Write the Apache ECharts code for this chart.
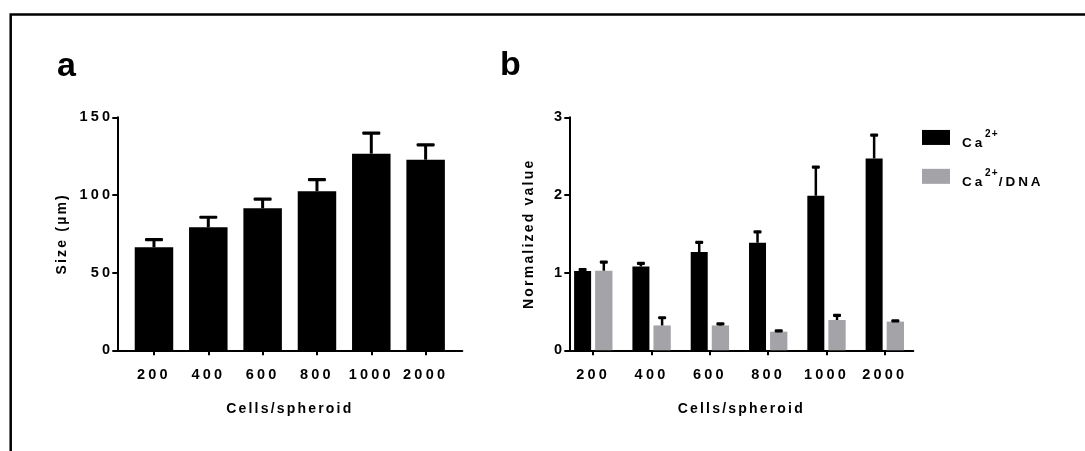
<!DOCTYPE html>
<html>
<head>
<meta charset="utf-8">
<title>Spheroid size and calcium content</title>
<script src="https://cdn.jsdelivr.net/npm/echarts@6/dist/echarts.min.js"></script>
<style>
  html, body { margin: 0; padding: 0; background: #fff; }
  #chart { width: 1085px; height: 451px; }
</style>
</head>
<body>
<div id="chart"></div>
<script>
// Seeding density (cells per spheroid)
const categories = ['200', '400', '600', '800', '1000', '2000'];

// (a) spheroid diameter, mean and upper SD
const sizeMean = [66.3, 79.2, 91.4, 102.4, 126.6, 122.7];
const sizeErr  = [6.0, 7.5, 6.9, 8.5, 14.2, 10.6];

// (b) normalized calcium content and calcium per DNA
const caMean    = [1.02, 1.08, 1.265, 1.385, 1.99, 2.47];
const caErr     = [0.04, 0.06, 0.145, 0.16, 0.39, 0.32];
const caDnaMean = [1.025, 0.32, 0.32, 0.24, 0.39, 0.37];
const caDnaErr  = [0.13, 0.12, 0.04, 0.03, 0.08, 0.03];

const sizeTicks = [0, 50, 100, 150];
const normTicks = [0, 1, 2, 3];

// Prism-style tracked lettering: glyph spacing chosen per font size.
const TRACKING = { 14.5: 3.2, 14: 2.2, 13.5: 2.9, 10: 1.2 };
(function () {
  const proto = CanvasRenderingContext2D.prototype;
  if (!('letterSpacing' in proto)) return;
  const apply = function (ctx) {
    const m = /(\d+(?:\.\d+)?)px/.exec(ctx.font);
    const size = m ? parseFloat(m[1]) : 0;
    ctx.letterSpacing = (TRACKING[size] || 0) + 'px';
  };
  ['fillText', 'strokeText', 'measureText'].forEach(function (fn) {
    const orig = proto[fn];
    proto[fn] = function () { apply(this); return orig.apply(this, arguments); };
  });
})();

const FONT = 'Liberation Sans';
const INK = '#000';
const GREY = '#a3a3a8';
const idx = categories.map(function (_, i) { return i; });

function barRenderer(offset, width) {
  return function (params, api) {
    const i = api.value(0);
    const top = api.coord([i, api.value(1)]);
    const base = api.coord([i, 0]);
    return {
      type: 'rect',
      shape: { x: top[0] + offset - width / 2, y: top[1], width: width, height: base[1] - top[1] },
      style: { fill: api.visual('color') }
    };
  };
}

function errRenderer(offset, capWidth, stroke) {
  return function (params, api) {
    const i = api.value(0);
    const mean = api.coord([i, api.value(1)]);
    const hi = api.coord([i, api.value(1) + api.value(2)]);
    const x = mean[0] + offset;
    return {
      type: 'group',
      children: [
        { type: 'line', shape: { x1: x, y1: mean[1], x2: x, y2: hi[1] + 1 },
          style: { stroke: INK, lineWidth: stroke } },
        { type: 'rect', shape: { x: x - capWidth / 2, y: hi[1], width: capWidth, height: 3.2, r: 1 },
          style: { fill: INK } }
      ]
    };
  };
}

function catAxis(gridIndex, min, max) {
  return {
    type: 'value', gridIndex: gridIndex, min: min, max: max,
    name: 'Cells/spheroid', nameLocation: 'middle', nameGap: 50.5,
    nameTextStyle: { fontFamily: FONT, fontWeight: 'bold', fontSize: 14, color: INK },
    axisLine: { show: true, onZero: false, lineStyle: { color: INK, width: 2 } },
    axisTick: { show: true, length: 5, lineStyle: { color: INK, width: 2 }, customValues: idx },
    axisLabel: {
      customValues: idx, margin: 15.5,
      fontFamily: FONT, fontWeight: 'bold', fontSize: 14.5, color: INK,
      formatter: function (v) { return categories[Math.round(v)]; }
    },
    splitLine: { show: false }
  };
}

function valAxis(gridIndex, name, ticks, nameGap) {
  return {
    type: 'value', gridIndex: gridIndex,
    min: ticks[0], max: ticks[ticks.length - 1], interval: ticks[1] - ticks[0],
    name: name, nameLocation: 'middle', nameGap: nameGap, nameRotate: 90,
    nameTextStyle: { fontFamily: FONT, fontWeight: 'bold', fontSize: 14, color: INK },
    axisLine: { show: true, onZero: false, lineStyle: { color: INK, width: 2 } },
    axisTick: { show: true, length: 5, lineStyle: { color: INK, width: 2 } },
    axisLabel: { margin: 4, fontFamily: FONT, fontWeight: 'bold', fontSize: 14.5, color: INK },
    splitLine: { show: false }
  };
}

const chart = echarts.init(document.getElementById('chart'), null, { renderer: 'canvas' });

chart.setOption({
  animation: false,
  backgroundColor: '#fff',
  title: [
    { text: 'a', left: 52, top: 45, textStyle: { fontFamily: FONT, fontWeight: 'bold', fontSize: 34, color: INK } },
    { text: 'b', left: 495, top: 44, textStyle: { fontFamily: FONT, fontWeight: 'bold', fontSize: 34, color: INK } }
  ],
  graphic: [
    { type: 'polyline', silent: true,
      shape: { points: [[10.7, 451], [10.7, 14.5], [1085, 14.5]] },
      style: { stroke: INK, lineWidth: 2.5, fill: null } }
  ],
  legend: {
    orient: 'vertical', left: 917, top: 118, itemWidth: 28, itemHeight: 15, itemGap: 10,
    icon: 'rect', selectedMode: false,
    data: ['Ca2+', 'Ca2+/DNA'],
    formatter: function (name) {
      return name === 'Ca2+' ? '{b|Ca}{s|2+}' : '{b|Ca}{s|2+}{b|/DNA}';
    },
    textStyle: {
      color: INK,
      rich: {
        b: { fontFamily: FONT, fontWeight: 'bold', fontSize: 13.5, color: INK, lineHeight: 28, padding: [12, 0, 0, 0] },
        s: { fontFamily: FONT, fontWeight: 'bold', fontSize: 10, color: INK, lineHeight: 28, padding: [0, 0, 7, 0] }
      },
      padding: [0, 0, 0, 7]
    }
  },
  grid: [
    { left: 117.3, top: 117.3, width: 345, height: 233 },
    { left: 569.3, top: 117.3, width: 344, height: 233 }
  ],
  xAxis: [catAxis(0, -0.675, 5.675), catAxis(1, -0.41, 5.49)],
  yAxis: [valAxis(0, 'Size (µm)', sizeTicks, 47), valAxis(1, 'Normalized value', normTicks, 32)],
  series: [
    { type: 'custom', name: 'Size', xAxisIndex: 0, yAxisIndex: 0, clip: false,
      itemStyle: { color: INK }, renderItem: barRenderer(0, 38.5),
      data: idx.map(function (i) { return [i, sizeMean[i]]; }) },
    { type: 'custom', name: 'Size SD', xAxisIndex: 0, yAxisIndex: 0, clip: false, z: 3,
      renderItem: errRenderer(0, 18, 3),
      data: idx.map(function (i) { return [i, sizeMean[i], sizeErr[i]]; }) },

    { type: 'custom', name: 'Ca2+', xAxisIndex: 1, yAxisIndex: 1, clip: false,
      itemStyle: { color: INK }, renderItem: barRenderer(-10.6, 17),
      data: idx.map(function (i) { return [i, caMean[i]]; }) },
    { type: 'custom', name: 'Ca2+/DNA', xAxisIndex: 1, yAxisIndex: 1, clip: false,
      itemStyle: { color: GREY }, renderItem: barRenderer(10.6, 17.3),
      data: idx.map(function (i) { return [i, caDnaMean[i]]; }) },
    { type: 'custom', name: 'Ca2+ SD', xAxisIndex: 1, yAxisIndex: 1, clip: false, z: 3,
      renderItem: errRenderer(-10.6, 8, 2.5),
      data: idx.map(function (i) { return [i, caMean[i], caErr[i]]; }) },
    { type: 'custom', name: 'Ca2+/DNA SD', xAxisIndex: 1, yAxisIndex: 1, clip: false, z: 3,
      renderItem: errRenderer(10.6, 8, 2.5),
      data: idx.map(function (i) { return [i, caDnaMean[i], caDnaErr[i]]; }) }
  ]
});
</script>
</body>
</html>
